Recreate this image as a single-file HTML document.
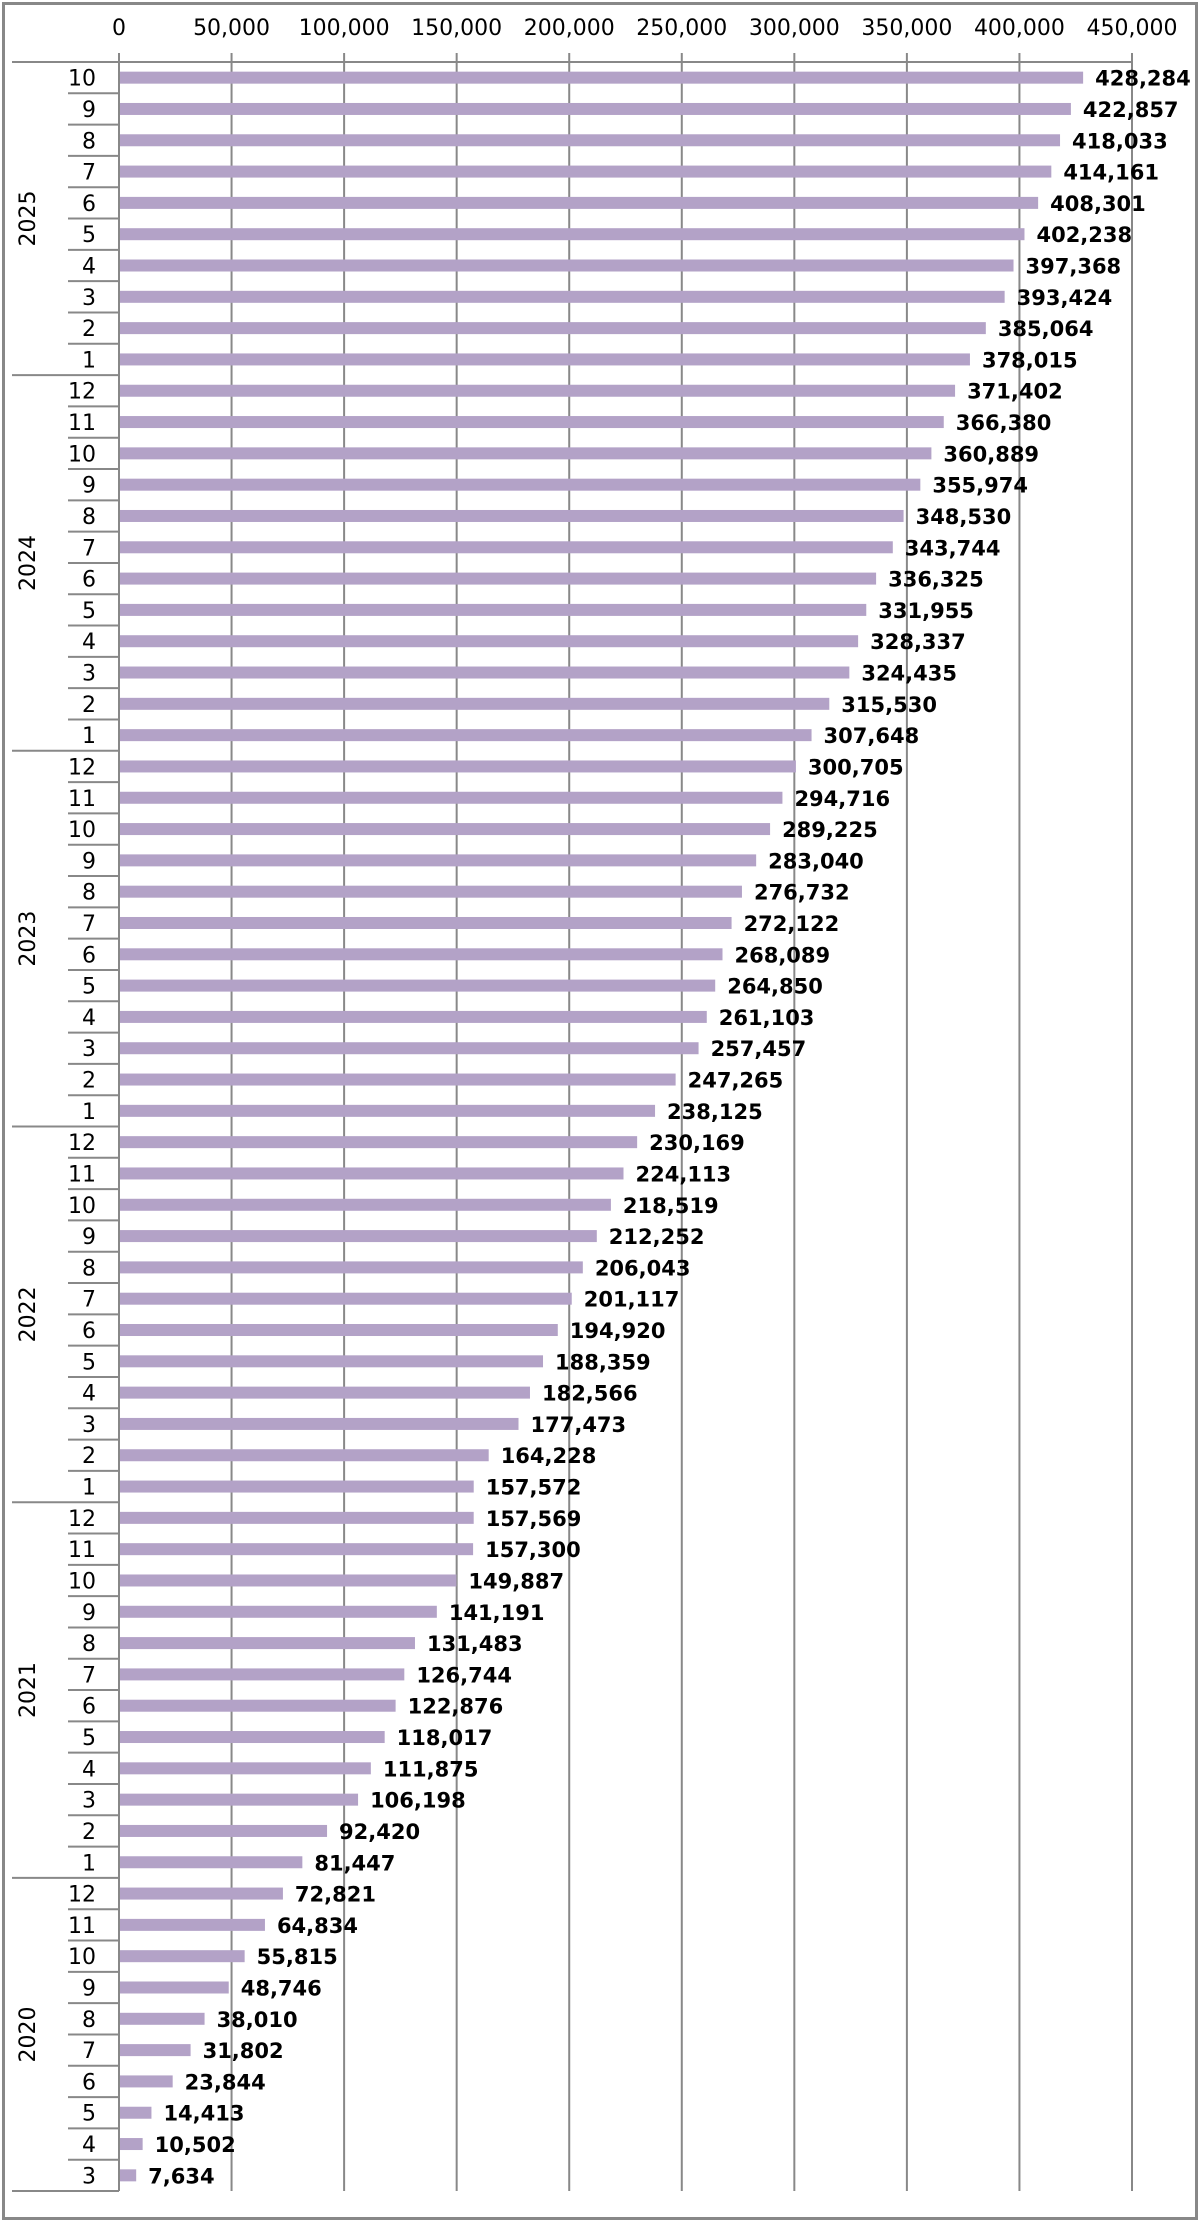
<!DOCTYPE html>
<html><head><meta charset="utf-8"><style>
html,body{margin:0;padding:0;background:#fff;}
svg{display:block;font-family:"DejaVu Sans","Liberation Sans",sans-serif;}
</style></head><body>
<svg id="chart" width="1200" height="2222" viewBox="0 0 1200 2222" xmlns="http://www.w3.org/2000/svg">
<rect x="3.5" y="3.5" width="1193" height="2215" fill="#fff" stroke="#888" stroke-width="3"/>
<g id="grid"></g><g id="bars"></g><g id="labels"></g><g id="cats"></g><g id="ticks"></g>
</svg>
<script>
const years = ["2025","2024","2023","2022","2021","2020"];
const monthsPerYear = [
 [10,9,8,7,6,5,4,3,2,1],
 [12,11,10,9,8,7,6,5,4,3,2,1],
 [12,11,10,9,8,7,6,5,4,3,2,1],
 [12,11,10,9,8,7,6,5,4,3,2,1],
 [12,11,10,9,8,7,6,5,4,3,2,1],
 [12,11,10,9,8,7,6,5,4,3]
];
const values = [
 428284,422857,418033,414161,408301,402238,397368,393424,385064,378015,
 371402,366380,360889,355974,348530,343744,336325,331955,328337,324435,315530,307648,
 300705,294716,289225,283040,276732,272122,268089,264850,261103,257457,247265,238125,
 230169,224113,218519,212252,206043,201117,194920,188359,182566,177473,164228,157572,
 157569,157300,149887,141191,131483,126744,122876,118017,111875,106198,92420,81447,
 72821,64834,55815,48746,38010,31802,23844,14413,10502,7634
];
const tickValues = [0,50000,100000,150000,200000,250000,300000,350000,400000,450000];

const NS="http://www.w3.org/2000/svg";
const x0=119, xMax=1132, vMax=450000, yTop=62, yBot=2191;
const nRows=values.length, pitch=(yBot-yTop)/nRows, barH=12;
const xs=v=>x0+(v/vMax)*(xMax-x0);
const ys=i=>yTop+pitch*i;
const fmt=v=>v.toLocaleString("en-US");
function mk(tag,attrs,parent,text){const e=document.createElementNS(NS,tag);for(const k in attrs)e.setAttribute(k,attrs[k]);if(text!==undefined)e.textContent=text;document.getElementById(parent).appendChild(e);return e;}

tickValues.forEach(t=>{
  const g=mk("line",{x1:xs(t),x2:xs(t),y1:53,y2:yBot,stroke:"#888","stroke-width":2},"grid");
  
  
  const l=mk("text",{x:xs(t),y:35,"text-anchor":"middle","font-size":22,fill:"#000"},"ticks",fmt(t));
  
  
});
const ax=mk("line",{x1:12,x2:xMax,y1:yTop,y2:yTop,stroke:"#888","stroke-width":2},"grid");



values.forEach((v,i)=>{
  const yc=ys(i)+pitch/2;
  const b=mk("rect",{x:x0+1,y:yc-barH/2,width:xs(v)-x0-1,height:barH,fill:"#b3a2c7"},"bars");
  
  
  const t=mk("text",{x:xs(v)+12,y:yc+8,"font-size":21,"font-weight":"bold",fill:"#000"},"labels",fmt(v));
  
  
});

let row=0;
years.forEach((yr,yi)=>{
  const months=monthsPerYear[yi];
  const start=row;
  months.forEach((m,mi)=>{
    const yc=ys(row)+pitch/2;
    const t=mk("text",{x:96,y:yc+8,"text-anchor":"end","font-size":22,fill:"#000"},"cats",String(m));
    
    
    if(mi>0){
      const s=mk("line",{x1:68,x2:x0,y1:ys(row),y2:ys(row),stroke:"#888","stroke-width":2},"cats");
      
      
    }
    row++;
  });
  const s=mk("line",{x1:12,x2:x0,y1:ys(row),y2:ys(row),stroke:"#888","stroke-width":2},"cats");
  
  
  const ym=(ys(start)+ys(row))/2;
  const yl=mk("text",{x:0,y:0,"text-anchor":"middle","font-size":22,fill:"#000",transform:`translate(35,${ym}) rotate(-90)`},"cats",yr);
  
  
});
const va=mk("line",{x1:x0,x2:x0,y1:53,y2:yBot,stroke:"#888","stroke-width":2},"cats");


</script>
</body></html>
